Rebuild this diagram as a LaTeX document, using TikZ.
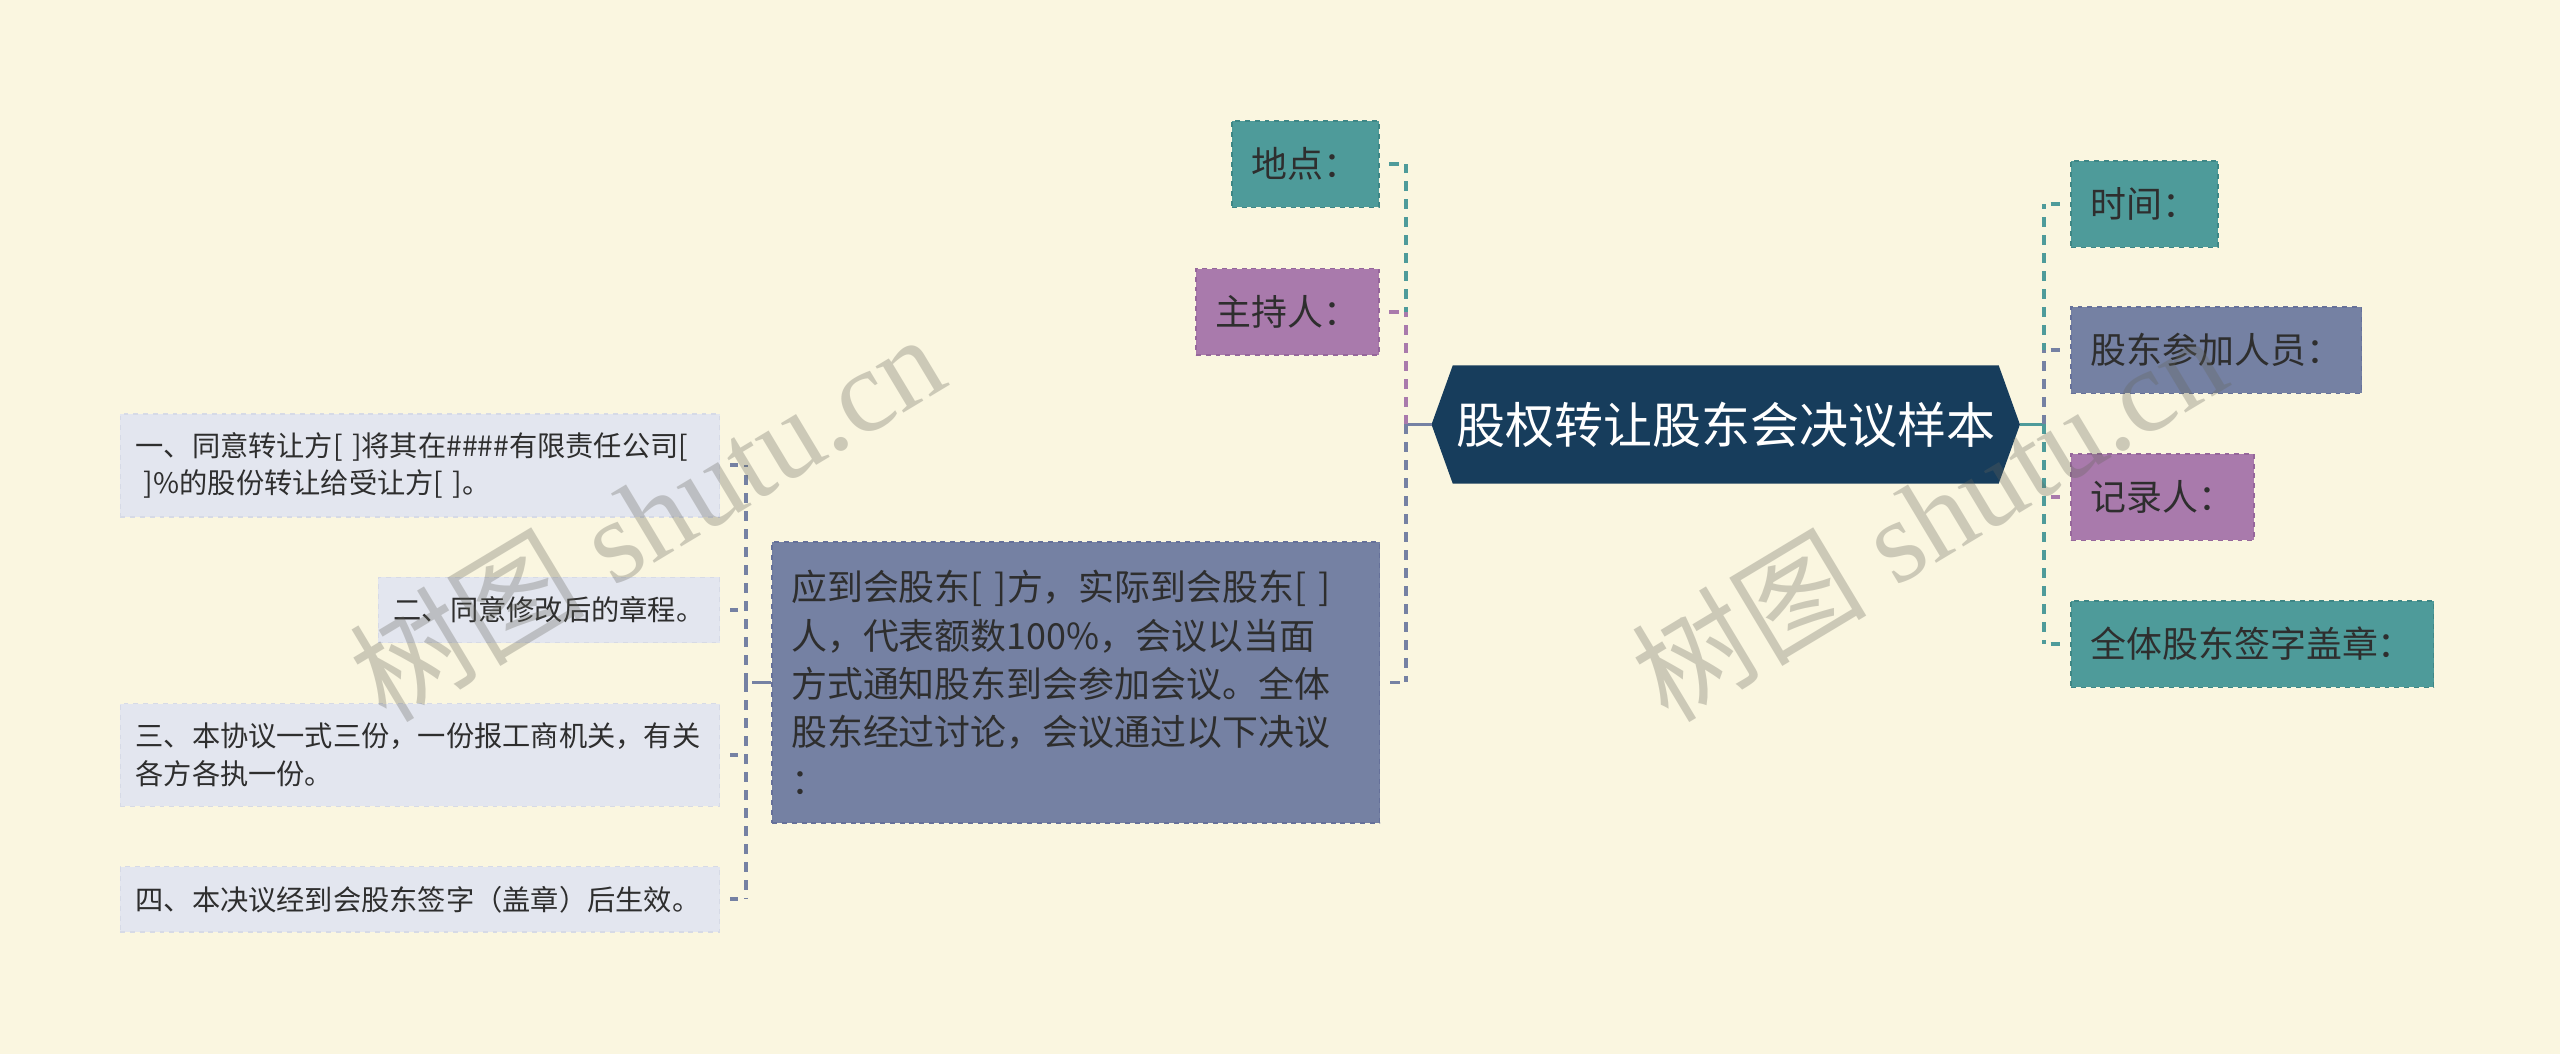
\documentclass[tikz,border=0pt]{standalone}
\usepackage{fontspec}
\setmainfont{Noto Sans CJK SC}
\newfontfamily\wmlat{Liberation Serif}
\newfontfamily\wmcjk{Noto Sans CJK SC}
\usetikzlibrary{backgrounds,calc}
\definecolor{bgc}{HTML}{FAF6E0}
\definecolor{navy}{HTML}{173D5C}
\definecolor{tealc}{HTML}{4E9B9A}
\definecolor{tealb}{HTML}{3F8786}
\definecolor{slatec}{HTML}{7581A3}
\definecolor{slateb}{HTML}{66719A}
\definecolor{purplec}{HTML}{A97AAC}
\definecolor{purpleb}{HTML}{96679B}
\definecolor{lightc}{HTML}{E3E6EF}
\definecolor{lightb}{HTML}{D6DAE6}
\definecolor{textc}{HTML}{2E2E2E}
\definecolor{wmc}{HTML}{64645A}
\tikzset{
  rootbox/.style={rectangle, minimum width=360pt, minimum height=72pt, inner sep=0pt,
    text=white, font=\fontsize{30}{36}\selectfont},
  rbox/.style={rectangle, dashed, line width=1pt, inner xsep=12pt, inner ysep=0pt,
    minimum height=53pt, text=textc, font=\fontsize{22}{26}\selectfont},
  tealbox/.style={fill=tealc, draw=tealb},
  slatebox/.style={fill=slatec, draw=slateb},
  purplebox/.style={fill=purplec, draw=purpleb},
  bigbox/.style={rectangle, dashed, line width=1pt, fill=slatec, draw=slateb,
    text width=348.8pt, inner xsep=11.6pt, inner ysep=0pt, minimum height=172pt,
    align=left, text=textc, font=\fontsize{22}{29.6}\selectfont},
  lbox/.style={rectangle, dashed, line width=1pt, fill=lightc, draw=lightb,
    inner xsep=9.3pt, inner ysep=0pt, anchor=east, text=textc,
    font=\fontsize{17.3}{23}\selectfont},
  vline/.style={line width=2.3pt, dash pattern=on 6pt off 5pt},
  stub/.style={line width=2.3pt},
  wm/.style={text=wmc, text opacity=0.3, inner sep=0pt, font=\wmlat\fontsize{72}{72}\selectfont}
}
\begin{document}
\begin{tikzpicture}[x=1pt,y=-1pt]
\useasboundingbox (0,0) rectangle (1568,645.6);

% central node
\node[rootbox] (root) at (1057,260) {股权转让股东会决议样本};

% right children
\node[rbox, tealbox, anchor=west] (shijian) at (1268,125) {时间：};
\node[rbox, slatebox, anchor=west] (gudong) at (1268,214.5) {股东参加人员：};
\node[rbox, purplebox, anchor=west] (jilu) at (1268,304.5) {记录人：};
\node[rbox, tealbox, anchor=west] (quanti) at (1268,394.5) {全体股东签字盖章：};

% upper left children
\node[rbox, tealbox, anchor=east] (didian) at (845,100.5) {地点：};
\node[rbox, purplebox, anchor=east] (zhuchi) at (845,191) {主持人：};
\node[bigbox] (big) at (659,418) {应到会股东[ ]方，实际到会股东[ ]\\人，代表额数100\%，会议以当面\\方式通知股东到会参加会议。全体\\股东经过讨论，会议通过以下决议\\：};

% lower left children
\node[lbox, text width=348.4pt, align=left, minimum height=63pt] (l1) at (441.2,285)
  {一、同意转让方[ ]将其在\#\#\#\#有限责任公司[\\\hspace*{0.3em}]\%的股份转让给受让方[ ]。};
\node[lbox, minimum height=40pt] (l2) at (441.2,373.6) {二、同意修改后的章程。};
\node[lbox, text width=348.4pt, align=left, minimum height=63pt] (l3) at (441.2,462.4)
  {三、本协议一式三份，一份报工商机关，有关\\各方各执一份。};
\node[lbox, text width=348.4pt, align=left, minimum height=40pt] (l4) at (441.2,550.8)
  {四、本决议经到会股东签字（盖章）后生效。};

\begin{pgfonlayer}{background}
\fill[bgc] (0,0) rectangle (1568,645.6);
\fill[navy] (root.west) -- ([xshift=13pt]root.north west) -- ([xshift=-13pt]root.north east)
  -- (root.east) -- ([xshift=-13pt]root.south east) -- ([xshift=13pt]root.south west) -- cycle;
\end{pgfonlayer}

% junctions
\coordinate (jl) at (861,260);
\coordinate (jr) at (1252,260);
\coordinate (jb) at (457,418);

% left connectors
\draw[stub, slatec] (root.west) -- (jl);
\draw[vline, tealc] (jl) -- (jl |- didian.east);
\draw[stub, tealc] ([xshift=6pt]didian.east) -- ([xshift=12pt]didian.east);
\draw[vline, purplec] (jl) -- (jl |- zhuchi.east);
\draw[stub, purplec] ([xshift=6pt]zhuchi.east) -- ([xshift=12pt]zhuchi.east);
\draw[vline, slatec] (jl) -- (jl |- big.east);
\draw[stub, slatec] ([xshift=6pt]big.east) -- ([xshift=12pt]big.east);

% right connectors
\draw[stub, tealc] (root.east) -- (jr);
\draw[vline, tealc] (jr) -- (jr |- shijian.west);
\draw[stub, tealc] ([xshift=-12pt]shijian.west) -- ([xshift=-6pt]shijian.west);
\draw[vline, slatec] (jr) -- (jr |- gudong.west);
\draw[stub, slatec] ([xshift=-12pt]gudong.west) -- ([xshift=-6pt]gudong.west);
\draw[vline, purplec] (jr) -- (jr |- jilu.west);
\draw[stub, purplec] ([xshift=-12pt]jilu.west) -- ([xshift=-6pt]jilu.west);
\draw[vline, tealc] (jr) -- (jr |- quanti.west);
\draw[stub, tealc] ([xshift=-12pt]quanti.west) -- ([xshift=-6pt]quanti.west);

% lower-left connectors
\draw[stub, slatec] (big.west) -- ([xshift=-12pt]big.west);
\draw[vline, slatec] (jb) -- (jb |- l1.east);
\draw[vline, slatec] (jb) -- (jb |- l4.east);
\draw[stub, slatec] ([xshift=6pt]l1.east) -- ([xshift=11pt]l1.east);
\draw[stub, slatec] ([xshift=6pt]l2.east) -- ([xshift=11pt]l2.east);
\draw[stub, slatec] ([xshift=6pt]l3.east) -- ([xshift=11pt]l3.east);
\draw[stub, slatec] ([xshift=6pt]l4.east) -- ([xshift=11pt]l4.east);

% watermarks
\node[wm, rotate=31] (wm1) at (396,316) {{\wmcjk 树图} shutu.cn};
\node[wm, rotate=31] (wm2) at (1181,316) {{\wmcjk 树图} shutu.cn};
\end{tikzpicture}
\end{document}
